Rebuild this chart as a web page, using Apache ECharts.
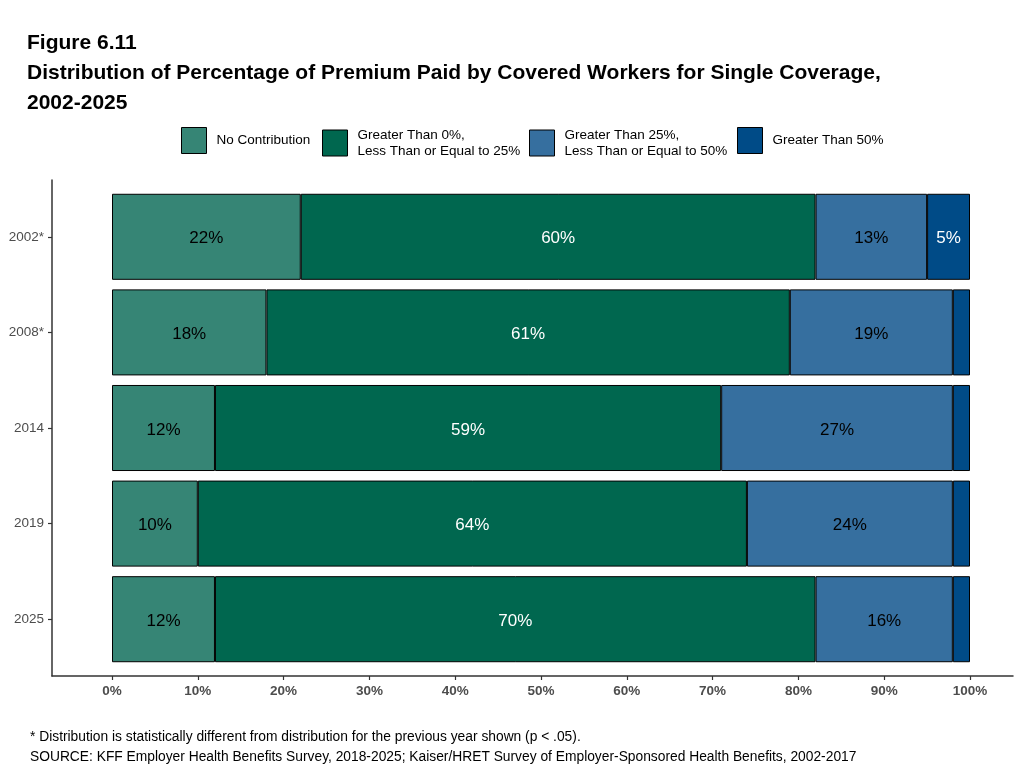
<!DOCTYPE html>
<html>
<head>
<meta charset="utf-8">
<script src="https://cdn.jsdelivr.net/npm/echarts@6/dist/echarts.min.js"></script>
<style>html,body{margin:0;padding:0;background:#fff;}#c{width:1023px;height:770px;}</style>
</head>
<body>
<div id="c"></div>
<script>
var categories = ['2002*', '2008*', '2014', '2019', '2025'];
var noContribution = [22, 18, 12, 10, 12];
var gt0le25 = [60, 61, 59, 64, 70];
var gt25le50 = [13, 19, 27, 24, 16];
var gt50 = [5, 2, 2, 2, 2];
var xTicks = [0, 10, 20, 30, 40, 50, 60, 70, 80, 90, 100];
var seriesNames = ['No Contribution', 'Greater Than 0%,\nLess Than or Equal to 25%', 'Greater Than 25%,\nLess Than or Equal to 50%', 'Greater Than 50%'];

var FONT = 'Liberation Sans, Arial, sans-serif';
var colors = ['#368575', '#00674f', '#366f9f', '#004b87'];
var labelColors = ['#000', '#fff', '#000', '#fff'];
var dataSets = [noContribution, gt0le25, gt25le50, gt50];

var series = dataSets.map(function (d, i) {
  return {
    name: seriesNames[i],
    type: 'bar',
    stack: 'total',
    xAxisIndex: 1,
    yAxisIndex: 1,
    barWidth: '90%',
    data: d,
    itemStyle: { color: colors[i], borderColor: '#000', borderWidth: 1 },
    label: {
      show: true,
      position: 'inside',
      offset: [0, 2],
      color: labelColors[i],
      fontFamily: FONT,
      fontSize: 17,
      formatter: function (p) { return p.value >= 5 ? p.value + '%' : ''; }
    }
  };
});

var legendLefts = [181, 322, 529, 737];
var legends = seriesNames.map(function (n, i) {
  return {
    data: [n],
    left: legendLefts[i],
    top: 127,
    padding: 0,
    icon: 'rect',
    itemWidth: 25,
    itemHeight: 26,
    selectedMode: false,
    itemStyle: { borderColor: '#000', borderWidth: 1 },
    textStyle: { fontFamily: FONT, fontSize: 13.5, color: '#000', lineHeight: 16, padding: [0, 0, 0, 5] }
  };
});

var chart = echarts.init(document.getElementById('c'));
chart.setOption({
  animation: false,
  backgroundColor: '#fff',
  title: [{
    text: 'Figure 6.11\nDistribution of Percentage of Premium Paid by Covered Workers for Single Coverage,\n2002-2025',
    left: 27, top: 28, padding: 0,
    textStyle: { fontFamily: FONT, fontSize: 21, fontWeight: 'bold', color: '#000', lineHeight: 30 }
  }, {
    text: '* Distribution is statistically different from distribution for the previous year shown (p < .05).\nSOURCE: KFF Employer Health Benefits Survey, 2018-2025; Kaiser/HRET Survey of Employer-Sponsored Health Benefits, 2002-2017',
    left: 30, top: 727, padding: 0,
    textStyle: { fontFamily: FONT, fontSize: 13.8, fontWeight: 'normal', color: '#000', lineHeight: 20 }
  }],
  legend: legends,
  grid: [
    { left: 52, right: 10, top: 180, bottom: 94, containLabel: false },
    { left: 112, right: 53, top: 189, bottom: 103, containLabel: false },
    { left: 52, right: 53, top: 189, bottom: 103, containLabel: false }
  ],
  xAxis: [{
    type: 'value', gridIndex: 0, min: 0, max: 1,
    axisLine: { show: true, lineStyle: { color: '#333', width: 1.5 } },
    axisTick: { show: false }, axisLabel: { show: false }, splitLine: { show: false }
  }, {
    type: 'value', gridIndex: 1, min: 0, max: 100, interval: 10, offset: 9,
    axisLine: { show: false },
    axisTick: { show: true, length: 4, lineStyle: { color: '#333', width: 1.2 } },
    axisLabel: { show: true, margin: 8, fontFamily: FONT, fontSize: 13.5, fontWeight: 'bold', color: '#4d4d4d',
      formatter: function (v) { return xTicks.indexOf(v) >= 0 ? v + '%' : ''; } },
    splitLine: { show: false }
  }, {
    type: 'value', gridIndex: 2, min: 0, max: 1, show: false
  }],
  yAxis: [{
    type: 'value', gridIndex: 0, min: 0, max: 1,
    axisLine: { show: true, lineStyle: { color: '#333', width: 1.5 } },
    axisTick: { show: false }, axisLabel: { show: false }, splitLine: { show: false }
  }, {
    type: 'category', gridIndex: 1, data: categories, inverse: true, show: false
  }, {
    type: 'category', gridIndex: 2, data: categories, inverse: true,
    axisLine: { show: false },
    axisTick: { show: true, length: 4, alignWithLabel: true, lineStyle: { color: '#333', width: 1.2 } },
    axisLabel: { show: true, margin: 8, fontFamily: FONT, fontSize: 13.5, color: '#4d4d4d' },
    splitLine: { show: false }
  }],
  series: series
});
</script>
</body>
</html>
